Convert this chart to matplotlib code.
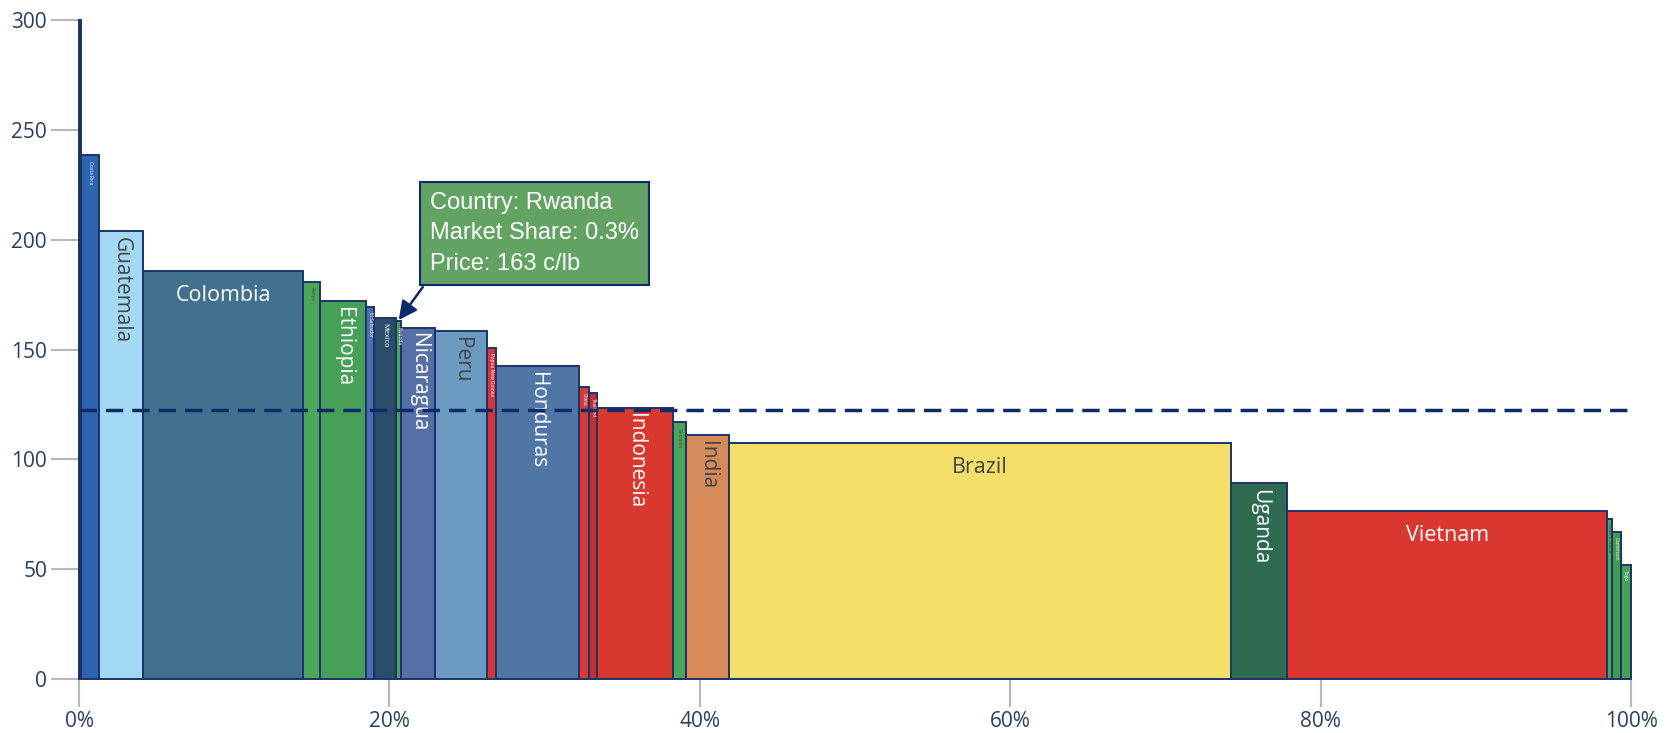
import matplotlib
matplotlib.use("Agg")
import matplotlib.pyplot as plt
import matplotlib.colors as mcolors
import numpy as np

# coffee producers, sorted by price (c/lb); widths = market share (%)
countries = ["Jamaica", "Costa Rica", "Guatemala", "Colombia", "Kenya", "Ethiopia",
             "El Salvador", "Mexico", "Rwanda", "Nicaragua", "Peru", "Papua New Guinea",
             "Honduras", "China", "Thailand", "Indonesia", "Tanzania", "India", "Brazil",
             "Uganda", "Vietnam", "Cote d'Ivoire", "Cameroon", "Togo"]
share = [0.15, 1.15, 2.85, 10.3, 1.1, 2.95, 0.5, 1.45, 0.3, 2.2, 3.35, 0.55,
         5.35, 0.65, 0.55, 4.9, 0.8, 2.75, 32.4, 3.6, 20.6, 0.35, 0.55, 0.65]
price = [300, 238.5, 204, 186, 181, 172, 169.5, 164.5, 163, 160, 158.5, 151,
         142.5, 133, 130.5, 123.5, 117, 111, 107.3, 89.3, 76.6, 73, 67, 52]
colors = ["#2456a0", "#2c64b0", "#a3d9f5", "#41718f", "#4ca65a", "#47a057",
          "#4d6fad", "#2b4d69", "#4ba25a", "#5470a5", "#6a9ac0", "#d8353a",
          "#5076a6", "#d93a35", "#c42f35", "#d9382f", "#4ca65a", "#d68a5a",
          "#f2de68", "#2e6b51", "#d9372f", "#4ca65a", "#3e9b4f", "#47a057"]
xticks = [0, 20, 40, 60, 80, 100]
yticks = [0, 50, 100, 150, 200, 250, 300]
highlight = "Rwanda"

navy = "#0d2a6b"
edge = "#1a3468"
tickcol = "#2a3f5f"

fig = plt.figure(figsize=(16.8, 7.33), dpi=100)
ax = fig.add_axes([79 / 1680, 1 - 679 / 733, (1631 - 79) / 1680, (679 - 20.4) / 733])

left = np.concatenate([[0], np.cumsum(share)[:-1]])
ax.bar(left, price, width=share, align="edge", color=colors, edgecolor=edge,
       linewidth=1.4, clip_on=False, zorder=2)

# labels inside the bars, shrunk hard for narrow bars
px_per_pct = (1631 - 79) / 100
for x0, w, p, name, c in zip(left, share, price, countries, colors):
    r, g, b = [v * 255 for v in mcolors.to_rgb(c)]
    txtcol = "#444444" if (r * 299 + g * 587 + b * 114) / 1000 >= 128 else "white"
    wpx = w * px_per_pct
    if wpx < 4:
        continue  # no room at all
    if w > 8:
        ax.annotate(name, (x0 + w / 2, p), xytext=(0, -10), textcoords="offset points",
                    ha="center", va="top", fontsize=15.5, color=txtcol,
                    family="Open Sans", zorder=3)
    else:
        fs = max(3.5, 15 * min(1, (wpx / 34) ** 2.5))
        ax.annotate(name, (x0 + w / 2, p), xytext=(0, -4), textcoords="offset points",
                    ha="center", va="top", rotation=-90, fontsize=fs, color=txtcol,
                    family="Open Sans", zorder=3)

# weighted average price
avg = np.average(price, weights=share)
ax.plot([0, 100], [avg, avg], color=navy, lw=2.5, dashes=(5, 2.6), zorder=4)

# callout
i = countries.index(highlight)
hx = left[i] + share[i] / 2
ax.annotate("", xy=(hx, price[i] + 0.5), xytext=(22.15, 178.5),
            arrowprops=dict(arrowstyle="-|>", color=navy, lw=1.8, mutation_scale=28,
                            shrinkA=0, shrinkB=0),
            zorder=6)
ax.text(22.6, 222,
        f"Country: {highlight}\nMarket Share: {share[i]}%\nPrice: {price[i]:.0f} c/lb",
        ha="left", va="top", fontsize=17, color="white", family="Liberation Sans",
        linespacing=1.5, zorder=7,
        bbox=dict(boxstyle="square,pad=0.42", fc="#62a262", ec=navy, lw=1.5))

ax.set_xlim(0, 100)
ax.set_ylim(0, 300)
ax.set_xticks(xticks)
ax.set_xticklabels([f"{t}%" for t in xticks])
ax.set_yticks(yticks)
for s in ax.spines.values():
    s.set_visible(False)
ax.tick_params(length=20, width=1.5, color="#b8b8b8", labelcolor=tickcol,
               labelsize=15, pad=3)
for lab in ax.get_xticklabels() + ax.get_yticklabels():
    lab.set_family("Open Sans")

fig.savefig("out.png", dpi=100)
